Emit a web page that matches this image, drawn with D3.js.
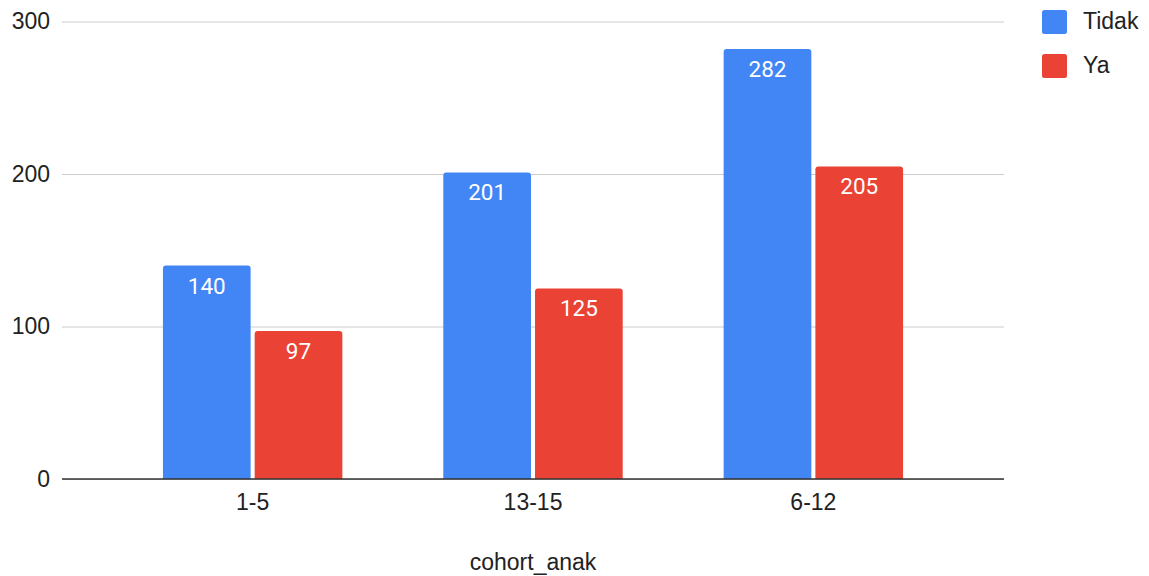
<!DOCTYPE html>
<html>
<head>
<meta charset="utf-8">
<script src="https://cdn.jsdelivr.net/npm/d3@7"></script>
<style>
  body { margin: 0; background: #fff; }
  svg { display: block; }
</style>
</head>
<body>
<div id="chart"></div>
<script>
// ---- data ----
const categories = ["1-5", "13-15", "6-12"];
const seriesNames = ["Tidak", "Ya"];
const tidakValues = [140, 201, 282];
const yaValues = [97, 125, 205];
const yTicks = [0, 100, 200, 300];

// ---- config ----
const CONFIG = {
  WIDTH: 1149,
  HEIGHT: 576,
  PLOT: { LEFT: 62, RIGHT: 1004, TOP: 21.5, BOTTOM: 479 },
  COLORS: ["#4285f4", "#ea4335"],
  GRID: "#cccccc",
  AXIS: "#333333",
  TEXT: "#222222",
  AXIS_FONT: "'Liberation Sans', Arial, sans-serif",
  AXIS_SIZE: "23px",
  LABEL_FONT: "Roboto, 'Liberation Sans', sans-serif",
  LABEL_SIZE: "22.5px",
};

const table = categories.map((c, i) => ({ cat: c, Tidak: tidakValues[i], Ya: yaValues[i] }));

const svg = d3.select("#chart").append("svg")
  .attr("width", CONFIG.WIDTH)
  .attr("height", CONFIG.HEIGHT);

// --- scales ---
const x = d3.scaleBand()
  .domain(categories)
  .range([CONFIG.PLOT.LEFT, CONFIG.PLOT.RIGHT])
  .paddingInner(0.36)
  .paddingOuter(0.36);

const xs = d3.scaleBand()
  .domain(seriesNames)
  .range([0, x.bandwidth()])
  .paddingInner(0.044);

const y = d3.scaleLinear()
  .domain([0, 300])
  .range([CONFIG.PLOT.BOTTOM, CONFIG.PLOT.TOP]);

const color = d3.scaleOrdinal().domain(seriesNames).range(CONFIG.COLORS);

// --- gridlines + y labels ---
const yAxis = svg.append("g")
  .attr("transform", `translate(${CONFIG.PLOT.LEFT},0)`)
  .call(d3.axisLeft(y).tickValues(yTicks).tickSize(-(CONFIG.PLOT.RIGHT - CONFIG.PLOT.LEFT)).tickPadding(12));
yAxis.select(".domain").remove();
yAxis.selectAll(".tick line").attr("stroke", CONFIG.GRID).attr("stroke-width", 1);
yAxis.selectAll(".tick text")
  .attr("fill", CONFIG.TEXT)
  .style("font-family", CONFIG.AXIS_FONT)
  .style("font-size", CONFIG.AXIS_SIZE);

// --- bars ---
const groups = svg.append("g").selectAll("g")
  .data(table)
  .join("g")
  .attr("transform", d => `translate(${x(d.cat)},0)`);

const bars = groups.selectAll("g")
  .data(d => seriesNames.map(s => ({ key: s, value: d[s] })))
  .join("g");

bars.append("path")
  .attr("fill", d => color(d.key))
  .attr("d", d => {
    const x0 = xs(d.key), w = xs.bandwidth();
    const y0 = y(d.value), y1 = y(0), r = 3;
    return `M${x0},${y1} L${x0},${y0 + r} Q${x0},${y0} ${x0 + r},${y0} L${x0 + w - r},${y0} Q${x0 + w},${y0} ${x0 + w},${y0 + r} L${x0 + w},${y1} Z`;
  });

bars.append("text")
  .attr("x", d => xs(d.key) + xs.bandwidth() / 2)
  .attr("y", d => y(d.value) + 28)
  .attr("text-anchor", "middle")
  .attr("fill", "#fff")
  .style("font-family", CONFIG.LABEL_FONT)
  .style("font-size", CONFIG.LABEL_SIZE)
  .text(d => d.value);

// --- x axis ---
const xAxis = svg.append("g")
  .attr("transform", `translate(0,${CONFIG.PLOT.BOTTOM})`)
  .call(d3.axisBottom(x).tickSize(0));
xAxis.select(".domain").attr("stroke", CONFIG.AXIS).attr("stroke-width", 1.5)
  .attr("d", `M${CONFIG.PLOT.LEFT},0H${CONFIG.PLOT.RIGHT}`);
xAxis.selectAll(".tick text")
  .attr("y", 31)
  .attr("dy", null)
  .attr("fill", CONFIG.TEXT)
  .style("font-family", CONFIG.AXIS_FONT)
  .style("font-size", CONFIG.AXIS_SIZE);

svg.append("text")
  .attr("x", 533)
  .attr("y", 570)
  .attr("text-anchor", "middle")
  .attr("fill", CONFIG.TEXT)
  .style("font-family", CONFIG.AXIS_FONT)
  .style("font-size", CONFIG.AXIS_SIZE)
  .text("cohort_anak");

// --- legend ---
const legend = svg.append("g").selectAll("g")
  .data(seriesNames)
  .join("g")
  .attr("transform", (d, i) => `translate(1042,${10 + i * 44})`);

legend.append("rect")
  .attr("width", 25).attr("height", 24).attr("rx", 2.5)
  .attr("fill", d => color(d));

legend.append("text")
  .attr("x", 41).attr("y", 19)
  .attr("fill", CONFIG.TEXT)
  .style("font-family", CONFIG.AXIS_FONT)
  .style("font-size", CONFIG.AXIS_SIZE)
  .text(d => d);
</script>
</body>
</html>
